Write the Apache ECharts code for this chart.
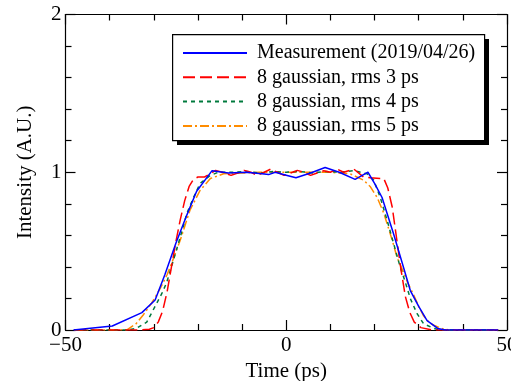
<!DOCTYPE html>
<html><head><meta charset="utf-8">
<script src="https://cdn.jsdelivr.net/npm/echarts@6/dist/echarts.min.js"></script>
<style>html,body{margin:0;padding:0;background:#fff}#c{width:511px;height:381px}</style>
</head><body><div id="c"></div>
<script>
const seriesNames = ['Measurement (2019/04/26)', '8 gaussian, rms 3 ps', '8 gaussian, rms 4 ps', '8 gaussian, rms 5 ps'];
const xTickLabels = {'-50': '\u221250', '0': '0', '50': '50'};
const yTickLabels = {'0': '0', '1': '1', '2': '2'};

const measX = [-48.2,-39.4,-32.7,-29.7,-27.5,-25,-22.5,-20.3,-16.8,-13.1,-9,-5.5,-4,-2.5,0.2,2.2,5.5,8.8,12,15.6,17.2,18.5,20,21.7,24.3,26,28.1,30,31.9,34.3,36,48];
const measY = [0,0.025,0.11,0.19,0.35,0.55,0.73,0.88,1.01,0.995,1.0,0.99,0.985,1.0,0.98,0.965,0.995,1.03,1.0,0.955,0.98,1.0,0.93,0.84,0.61,0.45,0.25,0.15,0.06,0.01,0,0];

const g3X = [-48,-34,-31,-30,-29,-28,-27,-26,-25,-24,-23,-22,-21,-20,-18.5,-17,-16,-14.5,-12.5,-11,-9.5,-8,-6.5,-5,-3.5,-2,-0.5,1,2.5,4,5.5,7,8.5,10,11.5,13,15.3,17.5,19,21.5,22.1,23,24,25,26,27,28,29,30.5,33,48];
const g3Y = [0,0,0.005,0.015,0.05,0.12,0.24,0.4,0.56,0.7,0.82,0.91,0.955,0.97,0.97,0.995,1.012,1.0,0.98,0.995,1.012,1.0,0.98,1.0,1.02,1.0,0.98,0.995,1.012,1.0,0.98,0.995,1.01,1.0,1.02,1.0,1.02,0.97,0.965,0.96,0.96,0.9,0.78,0.58,0.38,0.21,0.11,0.05,0.015,0,0];

const g4X = [-48,-36,-34,-31.6,-29.7,-28.2,-27.1,-26,-24,-22.5,-21,-19.5,-17.2,-15.4,-12,-9,-6,-3,0,3,6,9,12,15.3,18.3,19.8,21.3,22.8,24.3,25.8,27,28.1,29.6,31.1,33.4,35,48];
const g4Y = [0,0,0.01,0.05,0.15,0.23,0.3,0.4,0.59,0.74,0.84,0.93,0.98,1.0,1.0,1.005,0.995,1.005,1.0,1.005,0.995,1.005,1.0,1.01,0.99,0.95,0.84,0.7,0.55,0.4,0.3,0.2,0.105,0.04,0.01,0,0];

const g5X = [-48,-38,-36,-34,-32.4,-30.5,-28.6,-27,-26,-24,-21.8,-19.5,-17.2,-14.2,-10,-6,-2,2,6,10,14.5,17.5,19,20.6,22.1,24,25.1,26.5,27.5,28.9,30,31.1,32.3,33.4,35.7,37,48];
const g5Y = [0,0,0.003,0.04,0.095,0.17,0.26,0.35,0.42,0.57,0.76,0.886,0.96,0.99,0.995,1.0,1.0,1.0,1.0,1.0,0.99,0.95,0.91,0.84,0.74,0.57,0.46,0.37,0.3,0.22,0.15,0.09,0.05,0.03,0.005,0,0];

const colors = ['#0000ff', '#ff0000', '#007a3d', '#ff8c00'];
const dashes = ['solid', [12, 5], [4, 4], [9, 3, 2, 3]];
const xs = [measX, g3X, g4X, g5X];
const ys = [measY, g3Y, g4Y, g5Y];

const font = "'Liberation Serif', 'Times New Roman', serif";
const chart = echarts.init(document.getElementById('c'), null, {renderer: 'canvas'});

const axisCommon = {
  axisLine: {show: true, onZero: false, lineStyle: {color: '#000', width: 1.2}},
  axisTick: {show: true, inside: true, length: 10, lineStyle: {color: '#000', width: 1.2}},
  minorTick: {show: true, splitNumber: 5, length: 6, lineStyle: {color: '#000', width: 1.2}},
  splitLine: {show: false}
};

const series = seriesNames.map((n, i) => ({
  name: n,
  type: 'line',
  xAxisIndex: 0, yAxisIndex: 0,
  symbol: 'none',
  showSymbol: false,
  data: xs[i].map((x, k) => [x, ys[i][k]]),
  lineStyle: {color: colors[i], width: 1.5, type: dashes[i]},
  itemStyle: {color: colors[i]},
  z: 10 - i,
  animation: false
}));

chart.setOption({
  animation: false,
  grid: {left: 65.5, right: 4, top: 14.5, bottom: 51, containLabel: false, outerBoundsMode: 'none'},
  xAxis: [
    Object.assign({}, axisCommon, {
      type: 'value', min: -50, max: 50, interval: 50, position: 'bottom',
      name: 'Time (ps)', nameLocation: 'middle', nameGap: 26,
      nameTextStyle: {fontFamily: font, fontSize: 21, color: '#000'},
      axisLabel: {show: true, margin: 5, fontFamily: font, fontSize: 21, color: '#000',
        hideOverlap: false, showMinLabel: true, showMaxLabel: true,
        formatter: v => xTickLabels[String(v)] || ''}
    }),
    Object.assign({}, axisCommon, {
      type: 'value', min: -50, max: 50, interval: 50, position: 'top',
      axisLabel: {show: false}
    })
  ],
  yAxis: [
    Object.assign({}, axisCommon, {
      type: 'value', min: 0, max: 2, interval: 1, position: 'left',
      name: 'Intensity (A.U.)', nameLocation: 'middle', nameGap: 30, nameRotate: 90,
      nameTextStyle: {fontFamily: font, fontSize: 21, color: '#000'},
      axisLabel: {show: true, margin: 4, fontFamily: font, fontSize: 21, color: '#000',
        formatter: v => yTickLabels[String(v)] || ''}
    }),
    Object.assign({}, axisCommon, {
      type: 'value', min: 0, max: 2, interval: 1, position: 'right',
      axisLabel: {show: false}
    })
  ],
  graphic: [
    {type: 'rect', left: 177, top: 39, z: 50, shape: {width: 312, height: 106},
     style: {fill: '#000'}, silent: true},
    {type: 'rect', left: 172, top: 34, z: 51, shape: {width: 312, height: 106},
     style: {fill: '#fff', stroke: '#000', lineWidth: 1.2}, silent: true}
  ],
  legend: {
    show: true,
    z: 60,
    data: seriesNames,
    orient: 'vertical',
    left: 172, top: 34,
    padding: [9, 9, 4, 10],
    itemWidth: 64, itemHeight: 14, itemGap: 4.3,
    backgroundColor: 'transparent',
    borderWidth: 0,
    itemStyle: {opacity: 0, borderWidth: 0},
    textStyle: {fontFamily: font, fontSize: 20, color: '#000', lineHeight: 20, padding: [0, 0, 0, 5]},
    selectedMode: false
  },
  series: series
});
</script></body></html>
